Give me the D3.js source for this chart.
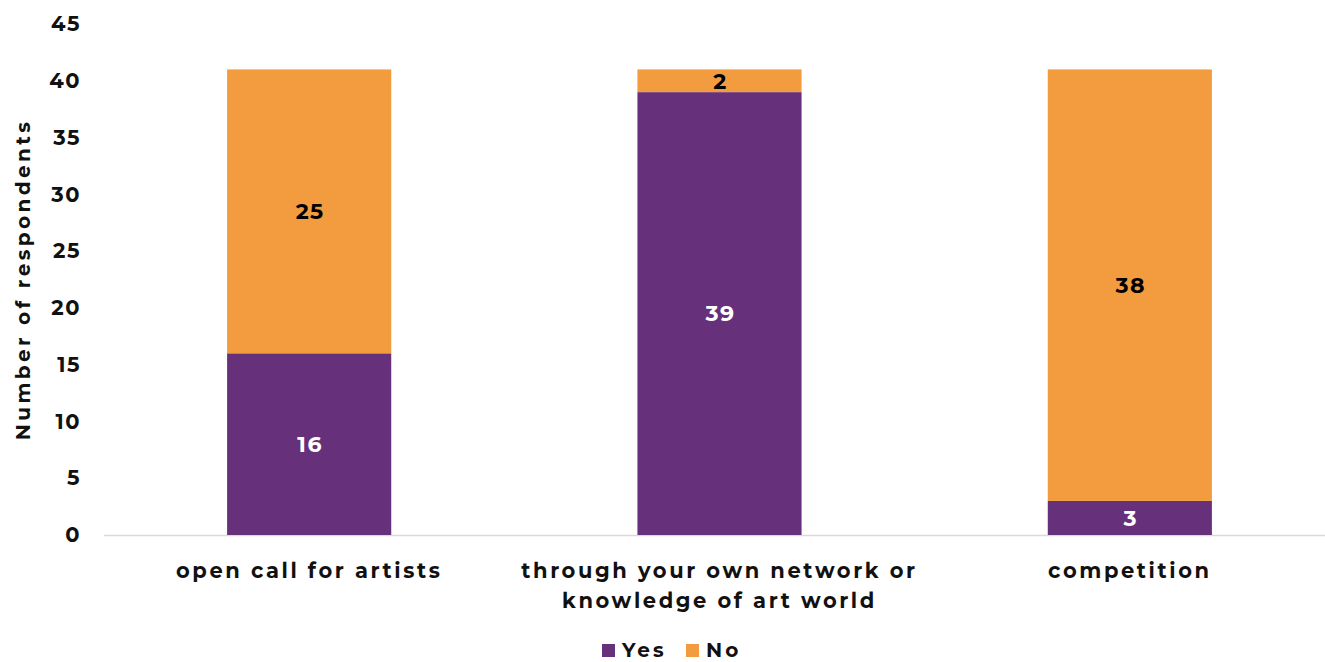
<!DOCTYPE html>
<html>
<head>
<meta charset="utf-8">
<script src="https://cdn.jsdelivr.net/npm/d3@7"></script>
<style>
  html, body { margin: 0; padding: 0; background: #fff; }
  svg { display: block; }
  text { font-family: "Montserrat", "Lato", "DejaVu Sans", sans-serif; font-weight: 700; }
</style>
</head>
<body>
<svg id="chart" width="1325" height="662"></svg>
<script>
// Respondents by how they found out about the opportunity
const categories = [
  ["open call for artists"],
  ["through your own network or", "knowledge of art world"],
  ["competition"]
];
const categoryKeys = ["open call", "network", "competition"];
const yesValues = [16, 39, 3];
const noValues = [25, 2, 38];
const seriesNames = ["Yes", "No"];
const seriesColors = ["#66307A", "#F29B3F"];
const labelColors = ["#ffffff", "#000000"];
const yTicks = [0, 5, 10, 15, 20, 25, 30, 35, 40, 45];
const yTitle = "Number of respondents";

const svg = d3.select("#chart");
const margin = { left: 104, right: -10, top: 24, bottom: 127 };
const W = 1325, H = 662;

const x = d3.scaleBand()
  .domain(categoryKeys)
  .range([margin.left, W - margin.right])
  .paddingInner(0.6)
  .paddingOuter(0.3);

const y = d3.scaleLinear()
  .domain([0, 45])
  .range([H - margin.bottom, margin.top]);

// Stack the two series
const rows = categoryKeys.map((k, i) => ({ key: k, Yes: yesValues[i], No: noValues[i] }));
const stack = d3.stack().keys(seriesNames)(rows);

// Baseline
svg.append("line")
  .attr("x1", margin.left).attr("x2", W)
  .attr("y1", y(0) + 0.5).attr("y2", y(0) + 0.5)
  .attr("stroke", "#d9d9d9").attr("stroke-width", 1.5);

// Y axis labels
const yAxis = d3.axisLeft(y).tickValues(yTicks).tickSize(0).tickPadding(0);
const gy = svg.append("g").attr("transform", "translate(81,0)").call(yAxis);
gy.select(".domain").remove();
gy.selectAll("text")
  .attr("font-size", 21)
  .attr("letter-spacing", 1.5)
  .attr("fill", "#111")
  .style("font-family", "Montserrat, Lato, 'DejaVu Sans', sans-serif")
  .style("font-weight", 700);

// Y title
svg.append("text")
  .attr("transform", `translate(30,${(y(0) + y(45)) / 2}) rotate(-90)`)
  .attr("text-anchor", "middle")
  .attr("font-size", 20)
  .attr("letter-spacing", 3.4)
  .attr("fill", "#111")
  .text(yTitle);

// Bars
stack.forEach((layer, si) => {
  const g = svg.append("g");
  g.selectAll("rect").data(layer).join("rect")
    .attr("x", d => x(d.data.key))
    .attr("width", x.bandwidth())
    .attr("y", d => y(d[1]))
    .attr("height", d => y(d[0]) - y(d[1]))
    .attr("fill", seriesColors[si]);
  g.selectAll("text").data(layer).join("text")
    .attr("x", d => x(d.data.key) + x.bandwidth() / 2 + 1)
    .attr("y", d => (y(d[0]) + y(d[1])) / 2)
    .attr("dy", "0.36em")
    .attr("text-anchor", "middle")
    .attr("font-size", 22)
    .attr("letter-spacing", 1.5)
    .attr("fill", labelColors[si])
    .text(d => d[1] - d[0]);
});

// Category labels
categoryKeys.forEach((k, i) => {
  const t = svg.append("text")
    .attr("x", x(k) + x.bandwidth() / 2)
    .attr("y", 578)
    .attr("text-anchor", "middle")
    .attr("font-size", 21)
    .attr("letter-spacing", 2.6)
    .attr("fill", "#111");
  categories[i].forEach((line, j) => {
    t.append("tspan")
      .attr("x", x(k) + x.bandwidth() / 2)
      .attr("dy", j === 0 ? 0 : 30)
      .text(line);
  });
});

// Legend
const legend = svg.append("g");
const legendItems = [
  { name: seriesNames[0], color: seriesColors[0], x: 602 },
  { name: seriesNames[1], color: seriesColors[1], x: 686 }
];
legendItems.forEach(it => {
  legend.append("rect")
    .attr("x", it.x).attr("y", 644)
    .attr("width", 13).attr("height", 13)
    .attr("fill", it.color);
  legend.append("text")
    .attr("x", it.x + 20).attr("y", 657)
    .attr("font-size", 20)
    .attr("letter-spacing", 3)
    .attr("fill", "#111")
    .text(it.name);
});
</script>
</body>
</html>
